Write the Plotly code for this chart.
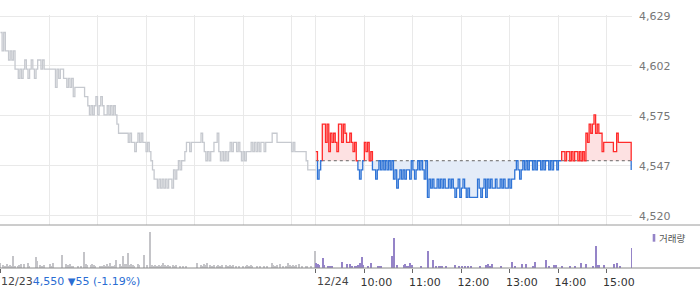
import plotly.graph_objects as go

# ---------------- data ----------------
BASE = 4550  # previous close (12/23)
PREV_STEP = 2  # minutes between samples

prev_price = [
    4620, 4610, 4620, 4610, 4610, 4605, 4610, 4605, 4610, 4600,
    4600, 4595, 4600, 4595, 4600, 4605, 4600, 4595, 4600, 4605,
    4600, 4595, 4600, 4605, 4605, 4600, 4605, 4600, 4600, 4600,
    4600, 4600, 4600, 4600, 4590, 4600, 4595, 4600, 4600, 4595,
    4595, 4590, 4595, 4590, 4595, 4585, 4590, 4590, 4590, 4590,
    4590, 4590, 4585, 4585, 4580, 4575, 4580, 4575, 4580, 4585,
    4575, 4580, 4585, 4580, 4575, 4575, 4580, 4575, 4580, 4575,
    4580, 4575, 4570, 4565, 4565, 4565, 4565, 4565, 4565, 4560,
    4565, 4560, 4560, 4555, 4560, 4565, 4560, 4565, 4560, 4560,
    4555, 4560, 4555, 4550, 4545, 4540, 4540, 4535, 4540, 4535,
    4540, 4535, 4540, 4535, 4540, 4540, 4535, 4545, 4540, 4545,
    4550, 4545, 4550, 4550, 4555, 4560, 4560, 4555, 4560, 4560,
    4560, 4560, 4560, 4560, 4565, 4560, 4555, 4550, 4555, 4550,
    4555, 4555, 4560, 4560, 4565, 4555, 4550, 4555, 4550, 4555,
    4550, 4555, 4560, 4555, 4560, 4560, 4555, 4560, 4555, 4550,
    4555, 4550, 4555, 4555, 4555, 4560, 4555, 4560, 4555, 4560,
    4555, 4560, 4560, 4555, 4560, 4560, 4560, 4560, 4565, 4565,
    4565, 4560, 4560, 4560, 4560, 4560, 4560, 4560, 4560, 4560,
    4555, 4560, 4555, 4555, 4555, 4555, 4555, 4555, 4555, 4550,
    4545, 4545, 4545, 4545, 4545, 4545,
]

today_price = [
    4555, 4540, 4545, 4550, 4570, 4570, 4560, 4570, 4555, 4565,
    4560, 4565, 4560, 4555, 4570, 4570, 4560, 4570, 4565, 4560,
    4560, 4565, 4560, 4555, 4560, 4550, 4545, 4540, 4545, 4550,
    4560, 4555, 4560, 4550, 4555, 4545, 4545, 4540, 4545, 4550,
    4545, 4550, 4545, 4550, 4545, 4550, 4545, 4550, 4540, 4545,
    4535, 4540, 4545, 4540, 4545, 4540, 4545, 4545, 4540, 4550,
    4545, 4540, 4545, 4550, 4545, 4550, 4545, 4540, 4550, 4530,
    4540, 4535, 4540, 4535, 4535, 4540, 4535, 4540, 4535, 4540,
    4535, 4535, 4540, 4535, 4540, 4535, 4530, 4535, 4540, 4530,
    4535, 4540, 4535, 4530, 4535, 4530, 4530, 4530, 4530, 4530,
    4540, 4535, 4530, 4535, 4540, 4530, 4540, 4535, 4540, 4535,
    4535, 4540, 4535, 4535, 4540, 4535, 4540, 4535, 4535, 4540,
    4535, 4540, 4540, 4545, 4550, 4545, 4540, 4545, 4550, 4545,
    4550, 4545, 4550, 4550, 4545, 4550, 4545, 4550, 4550, 4545,
    4550, 4545, 4550, 4550, 4545, 4550, 4545, 4550, 4550, 4545,
    4550, 4550, 4555, 4555, 4550, 4555, 4555, 4550, 4555, 4550,
    4555, 4555, 4550, 4555, 4550, 4555, 4550, 4565, 4560, 4570,
    4565, 4570, 4575, 4565, 4570, 4565, 4565, 4555, 4560, 4560,
    4560, 4560, 4560, 4560, 4555, 4555, 4565, 4560, 4560, 4560,
    4560, 4560, 4560, 4560, 4560, 4545,
]

prev_volume = [
    5, 0, 3, 2, 4, 2, 3, 2, 12, 2,
    0, 2, 3, 4, 0, 4, 0, 5, 2, 0,
    0, 0, 11, 7, 0, 3, 2, 3, 0, 0,
    0, 4, 2, 5, 0, 0, 0, 0, 13, 0,
    0, 4, 3, 4, 2, 2, 0, 0, 2, 0,
    2, 0, 16, 4, 3, 0, 3, 4, 3, 2,
    0, 0, 2, 2, 3, 2, 4, 2, 5, 2,
    2, 3, 8, 0, 4, 2, 12, 4, 4, 15,
    3, 4, 3, 2, 0, 4, 3, 0, 0, 13,
    0, 3, 0, 36, 3, 2, 3, 2, 3, 2,
    3, 5, 3, 2, 3, 2, 0, 3, 2, 3,
    0, 2, 0, 2, 0, 2, 0, 0, 0, 0,
    0, 0, 5, 0, 3, 2, 4, 3, 5, 0,
    3, 2, 3, 0, 2, 3, 2, 3, 0, 0,
    3, 2, 3, 2, 3, 0, 2, 0, 2, 0,
    2, 0, 2, 3, 2, 3, 2, 0, 0, 2,
    0, 2, 0, 2, 0, 2, 0, 0, 5, 3,
    2, 3, 0, 4, 0, 2, 0, 2, 5, 3,
    2, 3, 2, 3, 0, 4, 0, 2, 0, 2,
    2, 0, 2, 0, 0, 17,
]

today_volume = [
    5, 4, 3, 0, 10, 3, 0, 2, 2, 2,
    2, 0, 0, 0, 0, 0, 6, 0, 0, 4,
    0, 4, 2, 0, 2, 2, 3, 5, 11, 3,
    0, 0, 2, 0, 5, 0, 0, 0, 2, 2,
    2, 0, 0, 0, 0, 0, 0, 12, 30, 0,
    3, 0, 0, 0, 3, 4, 2, 2, 5, 3,
    0, 0, 0, 0, 0, 2, 0, 0, 0, 17,
    0, 0, 8, 0, 2, 0, 2, 2, 2, 0,
    2, 0, 0, 0, 0, 0, 3, 0, 2, 0,
    2, 0, 2, 0, 2, 0, 2, 0, 0, 0,
    0, 2, 0, 0, 0, 3, 4, 2, 2, 4,
    0, 0, 0, 0, 2, 0, 0, 0, 0, 0,
    0, 6, 0, 2, 0, 0, 0, 4, 0, 0,
    4, 0, 0, 0, 2, 6, 0, 0, 0, 0,
    0, 0, 8, 0, 2, 0, 0, 3, 3, 0,
    0, 0, 2, 0, 0, 0, 0, 2, 0, 0,
    2, 0, 0, 0, 5, 0, 0, 4, 0, 0,
    0, 2, 0, 22, 3, 3, 0, 0, 3, 0,
    0, 0, 0, 0, 4, 0, 5, 0, 2, 0,
    0, 0, 0, 0, 0, 20,
]

price_ticks = [4520, 4547.25, 4574.5, 4601.75, 4629]
price_tick_text = ["4,520", "4,547", "4,575", "4,602", "4,629"]
hour_ticks = [450, 510, 570, 630, 690, 750]
hour_labels = ["10:00", "11:00", "12:00", "13:00", "14:00", "15:00"]
day_start = 390  # minutes: 12/24 09:00 on the continuous axis
date_labels = ["12/23", "12/24"]
summary_text = "4,550"
summary_change = "55 (-1.19%)"

# ---------------- derived positions ----------------
prev_x = [PREV_STEP * i for i in range(len(prev_price))]
today_x = [day_start + PREV_STEP * j for j in range(len(today_price))]

RED = "#ff2b2b"
BLUE = "#2f74d6"
RED_FILL = "#fde1e2"
BLUE_FILL = "#e4ecf8"
GRAY_LINE = "#c6c9cf"
GRID = "#e9e9e9"


def hv_path(xs, ys):
    pts = []
    for k in range(len(xs)):
        pts.append((xs[k], ys[k]))
        if k + 1 < len(xs):
            pts.append((xs[k + 1], ys[k]))
    return pts


def colored_segments(xs, ys, base):
    pts = hv_path(xs, ys)
    side = "red" if ys[0] >= base else "blue"
    segs = []
    for (x0, y0), (x1, y1) in zip(pts[:-1], pts[1:]):
        if x0 == x1 and y0 == y1:
            continue
        if y0 == y1:
            if y0 > base:
                c = "red"
            elif y0 < base:
                c = "blue"
            else:
                c = side
            side = c
            segs.append((x0, y0, x1, y1, c))
        else:
            lo, hi = min(y0, y1), max(y0, y1)
            if lo >= base:
                segs.append((x0, y0, x1, y1, "red"))
            elif hi <= base:
                segs.append((x0, y0, x1, y1, "blue"))
            else:
                c0 = "red" if y0 > base else "blue"
                c1 = "red" if y1 > base else "blue"
                segs.append((x0, y0, x0, base, c0))
                segs.append((x0, base, x1, y1, c1))
    out = {"red": ([], []), "blue": ([], [])}
    last = {"red": None, "blue": None}
    for x0, y0, x1, y1, c in segs:
        X, Y = out[c]
        if last[c] != (x0, y0):
            if X:
                X.append(None)
                Y.append(None)
            X.append(x0)
            Y.append(y0)
        X.append(x1)
        Y.append(y1)
        last[c] = (x1, y1)
    return out


fig = go.Figure()

# previous-day line
fig.add_trace(go.Scatter(x=prev_x, y=prev_price, mode="lines",
                         line=dict(color=GRAY_LINE, width=1.3, shape="hv"),
                         hoverinfo="skip", xaxis="x", yaxis="y"))

# fills
path = hv_path(today_x, today_price)
for fn, color in ((max, RED_FILL), (min, BLUE_FILL)):
    fx = [p[0] for p in path] + [today_x[-1], today_x[0]]
    fy = [fn(p[1], BASE) for p in path] + [BASE, BASE]
    fig.add_trace(go.Scatter(x=fx, y=fy, mode="lines", fill="toself",
                             fillcolor=color, line=dict(width=0),
                             hoverinfo="skip", xaxis="x", yaxis="y"))

# base (previous close) dotted line
fig.add_trace(go.Scatter(x=[today_x[0], today_x[-1]], y=[BASE, BASE], mode="lines",
                         line=dict(color="#666666", width=1, dash="dot"),
                         hoverinfo="skip", xaxis="x", yaxis="y"))

segs = colored_segments(today_x, today_price, BASE)
for key, color in (("blue", BLUE), ("red", RED)):
    X, Y = segs[key]
    fig.add_trace(go.Scatter(x=X, y=Y, mode="lines",
                             line=dict(color=color, width=1.3),
                             connectgaps=False, hoverinfo="skip",
                             xaxis="x", yaxis="y"))

# volume bars
fig.add_trace(go.Bar(x=prev_x, y=prev_volume, width=1.3,
                     marker=dict(color="#c4c4c8", line=dict(width=0)),
                     xaxis="x2", yaxis="y2", hoverinfo="skip"))
fig.add_trace(go.Bar(x=today_x, y=today_volume, width=1.3,
                     marker=dict(color="#9584c8", line=dict(width=0)),
                     xaxis="x2", yaxis="y2", hoverinfo="skip"))

# ---------------- layout ----------------
W, H = 700, 289
ML, MR, MT, MB = 0, 68, 15, 21
PW = W - ML - MR
PH = H - MT - MB


def py(pix):
    """pixel y (from top of page) -> paper y"""
    return (H - MB - pix) / PH


def px(pix):
    return (pix - ML) / PW


main_bottom = py(225)
vol_top = py(226)

grid_x = [0, 60, 120, 180, 240, 300, 360] + [day_start] + hour_ticks

fig.update_layout(
    width=W, height=H,
    margin=dict(l=ML, r=MR, t=MT, b=MB, pad=0),
    paper_bgcolor="white", plot_bgcolor="white",
    showlegend=False, bargap=0,
    font=dict(family="DejaVu Sans", size=11, color="#333333"),
    xaxis=dict(domain=[0, 1], range=[-0.6, 781], anchor="y",
               tickvals=grid_x, showticklabels=False, ticks="",
               showgrid=True, gridcolor=GRID, gridwidth=1,
               zeroline=False, showline=False, fixedrange=True),
    yaxis=dict(domain=[main_bottom, 1], range=[4514.92, 4629.55],
               anchor="x", side="right",
               tickvals=price_ticks, ticktext=price_tick_text,
               tickfont=dict(family="DejaVu Sans", size=11, color="#777777"),
               ticks="", ticklabelstandoff=6,
               showgrid=True, gridcolor=GRID, gridwidth=1,
               zeroline=False, showline=False, fixedrange=True),
    xaxis2=dict(domain=[0, 1], range=[-0.6, 781], anchor="y2", matches="x",
                tickvals=[0, day_start] + hour_ticks,
                ticktext=["", ""] + hour_labels,
                ticks="outside", ticklen=4, tickwidth=1, tickcolor="#666666",
                ticklabelshift=12,
                tickfont=dict(family="DejaVu Sans", size=11, color="#333333"),
                showgrid=False, zeroline=False, showline=False, fixedrange=True),
    yaxis2=dict(domain=[0, vol_top], range=[0, 42], anchor="x2",
                showticklabels=False, showgrid=False, zeroline=False,
                showline=False, ticks="", fixedrange=True),
    shapes=[
        dict(type="line", xref="paper", yref="paper", x0=0, x1=px(W),
             y0=main_bottom, y1=main_bottom, line=dict(color="#9a9a9a", width=1)),
        dict(type="line", xref="paper", yref="paper", x0=0, x1=px(W),
             y0=0, y1=0, line=dict(color="#8a8a8a", width=1)),
        dict(type="rect", xref="paper", yref="paper",
             x0=px(652.7), x1=px(655.3), y0=py(241.7), y1=py(234),
             fillcolor="#9584c8", line=dict(width=0)),
    ],
    annotations=[
        dict(xref="x2", yref="paper", x=0, y=py(281.5), xanchor="left",
             yanchor="middle", showarrow=False, borderpad=0,
             text=(date_labels[0] +
                   "<span style='color:#2a6dd3'>" + summary_text +
                   " <span style='font-size:10px'>▼</span>" + summary_change +
                   "</span>"),
             font=dict(family="DejaVu Sans", size=11, color="#444444")),
        dict(xref="x2", yref="paper", x=day_start, y=py(281.5), xanchor="left",
             yanchor="middle", showarrow=False, borderpad=0,
             text=date_labels[1],
             font=dict(family="DejaVu Sans", size=11, color="#444444")),
        dict(xref="paper", yref="paper", x=px(657.5), y=py(237.5), xanchor="left",
             yanchor="middle", showarrow=False, borderpad=0, text="거래량",
             font=dict(family="Noto Sans CJK KR", size=9.5, color="#555555")),
    ],
)

fig.write_html("out.html")
